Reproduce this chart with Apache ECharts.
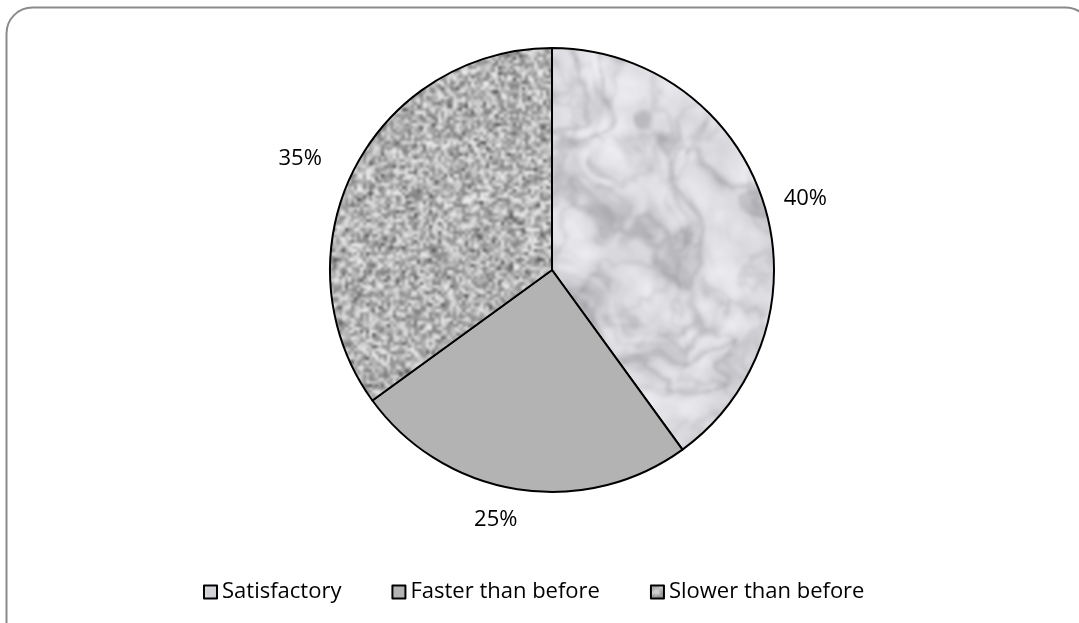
<!DOCTYPE html>
<html>
<head>
<meta charset="utf-8">
<style>
  html, body { margin: 0; padding: 0; background: #fff; }
  #chart { width: 1079px; height: 623px; }
</style>
<script src="https://cdn.jsdelivr.net/npm/echarts@6/dist/echarts.min.js"></script>
</head>
<body>
<div id="chart"></div>
<script>
// Survey answers and their shares (percent)
const categories = ['Satisfactory', 'Faster than before', 'Slower than before'];
const shares = [40, 25, 35];

// Small seeded generator so the textures look the same on every load
function makeRng(seed) {
  let a = seed >>> 0;
  return function () {
    a = (a + 0x6D2B79F5) >>> 0;
    let t = a;
    t = Math.imul(t ^ (t >>> 15), t | 1);
    t ^= t + Math.imul(t ^ (t >>> 7), t | 61);
    return ((t ^ (t >>> 14)) >>> 0) / 4294967296;
  };
}

// Lattice value noise with smooth interpolation
function makeNoise(seed) {
  const rnd = makeRng(seed);
  const N = 256;
  const table = new Float32Array(N * N);
  for (let i = 0; i < N * N; i++) table[i] = rnd();
  const at = (i, j) => table[((j & 255) * N) + (i & 255)];
  const fade = t => t * t * (3 - 2 * t);
  return function (x, y) {
    const xi = Math.floor(x), yi = Math.floor(y);
    const fx = fade(x - xi), fy = fade(y - yi);
    const a = at(xi, yi), b = at(xi + 1, yi), c = at(xi, yi + 1), d = at(xi + 1, yi + 1);
    return (a + (b - a) * fx) * (1 - fy) + (c + (d - c) * fx) * fy;
  };
}

function fbm(noise, x, y, octaves) {
  let sum = 0, amp = 0.5, f = 1, norm = 0;
  for (let o = 0; o < octaves; o++) {
    sum += amp * noise(x * f, y * f);
    norm += amp;
    amp *= 0.5; f *= 2;
  }
  return sum / norm;
}

// White marble: pale cloudy base with soft grey veins
function marbleTexture() {
  const w = 420, h = 280, scale = 2;
  const s = document.createElement('canvas');
  s.width = w; s.height = h;
  const sctx = s.getContext('2d');
  const img = sctx.createImageData(w, h);
  const cloud = makeNoise(11);
  const vein = makeNoise(29);
  const vein2 = makeNoise(47);
  for (let y = 0; y < h; y++) {
    for (let x = 0; x < w; x++) {
      const c = fbm(cloud, x / 18, y / 18, 4);
      const warp = fbm(cloud, x / 40 + 5, y / 40 + 9, 3);
      const v1 = fbm(vein, x / 34 + warp * 2.5, y / 30 + warp * 2.5, 5);
      const r1 = Math.pow(1 - Math.abs(2 * v1 - 1), 9);
      const v2 = fbm(vein2, x / 16 + warp * 1.5, y / 20, 4);
      const r2 = Math.pow(1 - Math.abs(2 * v2 - 1), 12);
      let g = 228 + (c - 0.5) * 44 - r1 * 42 - r2 * 22;
      g = Math.max(150, Math.min(247, g));
      const i = (y * w + x) * 4;
      img.data[i] = g; img.data[i + 1] = g; img.data[i + 2] = Math.min(255, g + 5);
      img.data[i + 3] = 255;
    }
  }
  sctx.putImageData(img, 0, 0);
  const c = document.createElement('canvas');
  c.width = w * scale; c.height = h * scale;
  const ctx = c.getContext('2d');
  ctx.imageSmoothingEnabled = true;
  ctx.filter = 'blur(1.4px)';
  ctx.drawImage(s, 0, 0, c.width, c.height);
  ctx.filter = 'none';
  return c;
}

// Granite: dense speckled grey grains with a few dark flecks
function graniteTexture() {
  const w = 285, h = 185, scale = 3;
  const s = document.createElement('canvas');
  s.width = w; s.height = h;
  const sctx = s.getContext('2d');
  const img = sctx.createImageData(w, h);
  const rnd = makeRng(21);
  for (let i = 0; i < w * h; i++) {
    let v = 120 + Math.floor(rnd() * 125);
    if (rnd() < 0.035) v = 60 + Math.floor(rnd() * 45);
    img.data[i * 4] = v;
    img.data[i * 4 + 1] = v;
    img.data[i * 4 + 2] = v;
    img.data[i * 4 + 3] = 255;
  }
  sctx.putImageData(img, 0, 0);
  const c = document.createElement('canvas');
  c.width = w * scale; c.height = h * scale;
  const ctx = c.getContext('2d');
  ctx.imageSmoothingEnabled = true;
  ctx.filter = 'blur(1.1px)';
  ctx.drawImage(s, 0, 0, c.width, c.height);
  ctx.filter = 'none';
  return c;
}

const fills = [
  { image: marbleTexture(), repeat: 'repeat' },
  '#b3b3b3',
  { image: graniteTexture(), repeat: 'repeat' }
];

// Per-slice label distances from the rim
const labelLines = [
  { length: 10, length2: 6 },
  { length: 31, length2: -10 },
  { length: 24, length2: 6 }
];

const textFont = '"Open Sans", Lato, "Liberation Sans", sans-serif';

const chart = echarts.init(document.getElementById('chart'), null, { renderer: 'canvas' });
chart.setOption({
  animation: false,
  backgroundColor: '#ffffff',
  graphic: [{
    type: 'rect',
    shape: { x: 6.5, y: 7.5, width: 1085, height: 640, r: 26 },
    style: { fill: 'none', stroke: '#8a8a8a', lineWidth: 2 },
    z: 0
  }],
  legend: {
    top: 576,
    left: 198,
    icon: 'rect',
    itemWidth: 13,
    itemHeight: 13,
    itemGap: 50,
    textStyle: { fontFamily: textFont, fontSize: 22, color: '#000' },
    itemStyle: { borderColor: '#000', borderWidth: 2 },
    data: categories
  },
  series: [{
    type: 'pie',
    center: [552, 270],
    radius: 222,
    startAngle: 90,
    clockwise: true,
    avoidLabelOverlap: false,
    itemStyle: { borderColor: '#000', borderWidth: 2 },
    label: {
      show: true,
      position: 'outside',
      formatter: '{c}%',
      fontFamily: textFont,
      fontSize: 22,
      color: '#000'
    },
    labelLine: { show: false, length: 18, length2: 6 },
    emphasis: { disabled: true },
    data: categories.map((name, i) => ({
      name: name,
      value: shares[i],
      itemStyle: { color: fills[i] },
      labelLine: { show: false, length: labelLines[i].length, length2: labelLines[i].length2 }
    }))
  }]
});
</script>
</body>
</html>
